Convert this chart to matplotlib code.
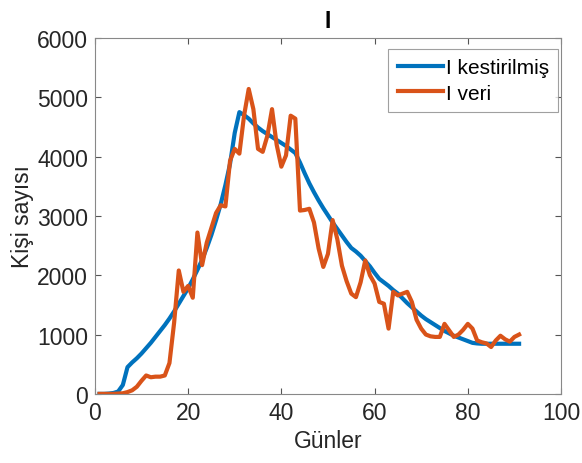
import numpy as np
import matplotlib
matplotlib.use("Agg")
import matplotlib.pyplot as plt

# days
gunler = np.arange(1, 92)

# fitted infected (I kestirilmis)
i_kestirilmis = [
    0, 0, 5, 15, 40, 150, 450, 530, 600, 680,
    770, 860, 960, 1060, 1160, 1270, 1390, 1520, 1650, 1780,
    1930, 2090, 2260, 2460, 2680, 2930, 3200, 3520, 3880, 4400,
    4750, 4700, 4640, 4560, 4490, 4430, 4380, 4330, 4280, 4230,
    4180, 4120, 4060, 3900, 3720, 3550, 3400, 3260, 3130, 3010,
    2890, 2780, 2670, 2560, 2460, 2400, 2330, 2240, 2150, 2040,
    1940, 1880, 1820, 1750, 1690, 1610, 1530, 1460, 1390, 1320,
    1260, 1210, 1160, 1110, 1060, 1020, 980, 950, 920, 890,
    860, 850, 845, 845, 845, 845, 845, 845, 845, 845,
    845,
]

# observed infected (I veri)
i_veri = [
    0, 0, 0, 0, 5, 10, 30, 60, 120, 220,
    310, 280, 290, 290, 310, 520, 1200, 2080, 1720, 1820,
    1620, 2720, 2170, 2550, 2800, 3050, 3180, 3160, 3930, 4130,
    4050, 4690, 5140, 4800, 4130, 4080, 4350, 4800, 4200, 3830,
    4020, 4690, 4640, 3090, 3100, 3120, 2890, 2450, 2140, 2360,
    2930, 2610, 2160, 1900, 1690, 1630, 1880, 2250, 2000, 1860,
    1550, 1520, 1100, 1720, 1660, 1690, 1720, 1550, 1250, 1100,
    1000, 970, 960, 960, 1180, 1070, 960, 1000, 1080, 1180,
    1100, 900, 870, 850, 790, 900, 980, 920, 880, 960,
    1000,
]

plt.rcParams["font.family"] = ["Liberation Sans", "DejaVu Sans"]

fig = plt.figure(figsize=(5.82, 4.64), dpi=100)
ax = fig.add_axes([0.163, 0.149, 0.801, 0.767])

ax.plot(gunler, i_kestirilmis, color="#0072BD", lw=3.0, label="I kestirilmiş")
ax.plot(gunler, i_veri, color="#D95319", lw=3.0, label="I veri")

ax.set_xlim(0, 100)
ax.set_ylim(0, 6000)
ax.set_xticks(np.arange(0, 101, 20))
ax.set_yticks(np.arange(0, 6001, 1000))
ax.tick_params(direction="in", top=True, right=True, labelsize=16.5,
               length=4, color="#555555", labelcolor="#262626", pad=5)
for s in ax.spines.values():
    s.set_color("#888888")
    s.set_linewidth(0.8)

ax.set_xlabel("Günler", fontsize=16.5, color="#262626", labelpad=4)
ax.set_ylabel("Kişi sayısı", fontsize=16.5, color="#262626", labelpad=2)
ax.set_title("I", fontsize=16.5, fontweight="bold", pad=8)

leg = ax.legend(loc="upper right", bbox_to_anchor=(0.994, 0.969),
                fontsize=15, handlelength=2.15,
                fancybox=False, borderpad=0.45, labelspacing=0.3,
                handletextpad=0.15, borderaxespad=0.0)
leg.get_frame().set_edgecolor("#888888")
leg.get_frame().set_linewidth(0.8)

fig.savefig("out.png", dpi=100)
